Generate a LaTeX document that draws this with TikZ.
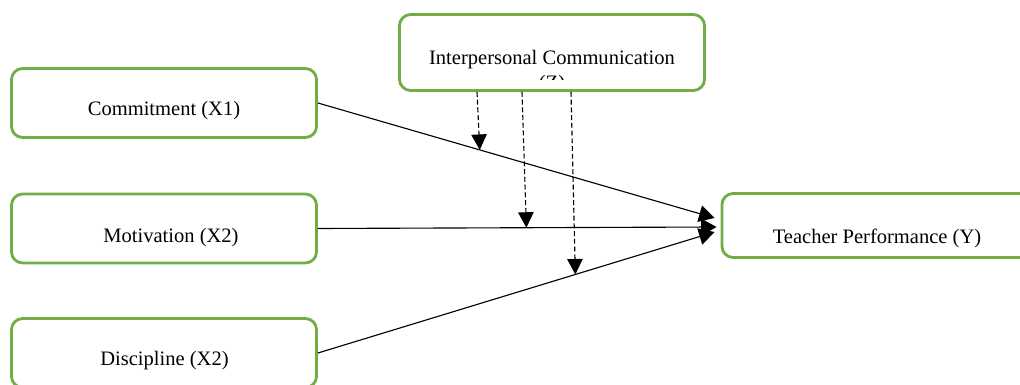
\documentclass[tikz,border=0pt]{standalone}
\usepackage{fontspec}
\setmainfont{Liberation Serif}
\usetikzlibrary{arrows.meta}
\usetikzlibrary{calc}
\definecolor{boxgreen}{RGB}{112,173,71}
\tikzset{
    varbox/.style={draw=boxgreen, line width=2pt, rounded corners=8pt, minimum width=7.625cm, minimum height=1.725cm},
    varlabel/.style={font=\fontsize{14.6}{18}\selectfont, inner sep=0pt},
    effect/.style={-{Triangle[length=11pt,width=12pt]}, line width=0.8pt},
    moderate/.style={-{Triangle[length=11pt,width=11pt]}, line width=0.8pt, dash pattern=on 3.5pt off 2pt},
}

\begin{document}
\begin{tikzpicture}[x=0.025cm, y=-0.025cm]
    \useasboundingbox (0,0) rectangle (1020,385);

    \node[varbox] (commit) at (164,103) {};
    \node[varbox] (motiv) at (164,228.5) {};
    \node[varbox] (disc) at (164,353) {};
    \node[varbox, minimum height=1.9cm] (zbox) at (552,52.5) {};
    \node[varbox, minimum width=8cm, minimum height=1.6cm] (teach) at (882,225.5) {};

    \node[varlabel] (commitT) at (164,111) {Commitment (X1)};
    \node[varlabel] (motivT) at (171,238) {Motivation (X2)};
    \node[varlabel] (discT) at (164.5,361) {Discipline (X2)};
    \node[varlabel] (zboxT) at (552,60) {Interpersonal Communication};
    \begin{scope}
        \clip (400,15) rectangle (704,80);
        \node[varlabel] (zboxZ) at (552,85) {(Z)};
    \end{scope}
    \node[varlabel] (teachT) at (877,238) {Teacher Performance (Y)};

    \draw[effect] (commit.east) -- coordinate[pos=0.408] (m1) ($(teach.west)+(-6,-7.5)$);
    \draw[effect] (motiv.east) -- coordinate[pos=0.523] (m2) ($(teach.west)+(-4,1.5)$);
    \draw[effect] (disc.east) -- coordinate[pos=0.649] (m3) ($(teach.west)+(-6,6.5)$);

    \draw[moderate] ($(zbox.south)+(-75,0)$) -- (m1);
    \draw[moderate] ($(zbox.south)+(-30,0)$) -- (m2);
    \draw[moderate] ($(zbox.south)+(19,0)$) -- (m3);

\end{tikzpicture}
\end{document}
